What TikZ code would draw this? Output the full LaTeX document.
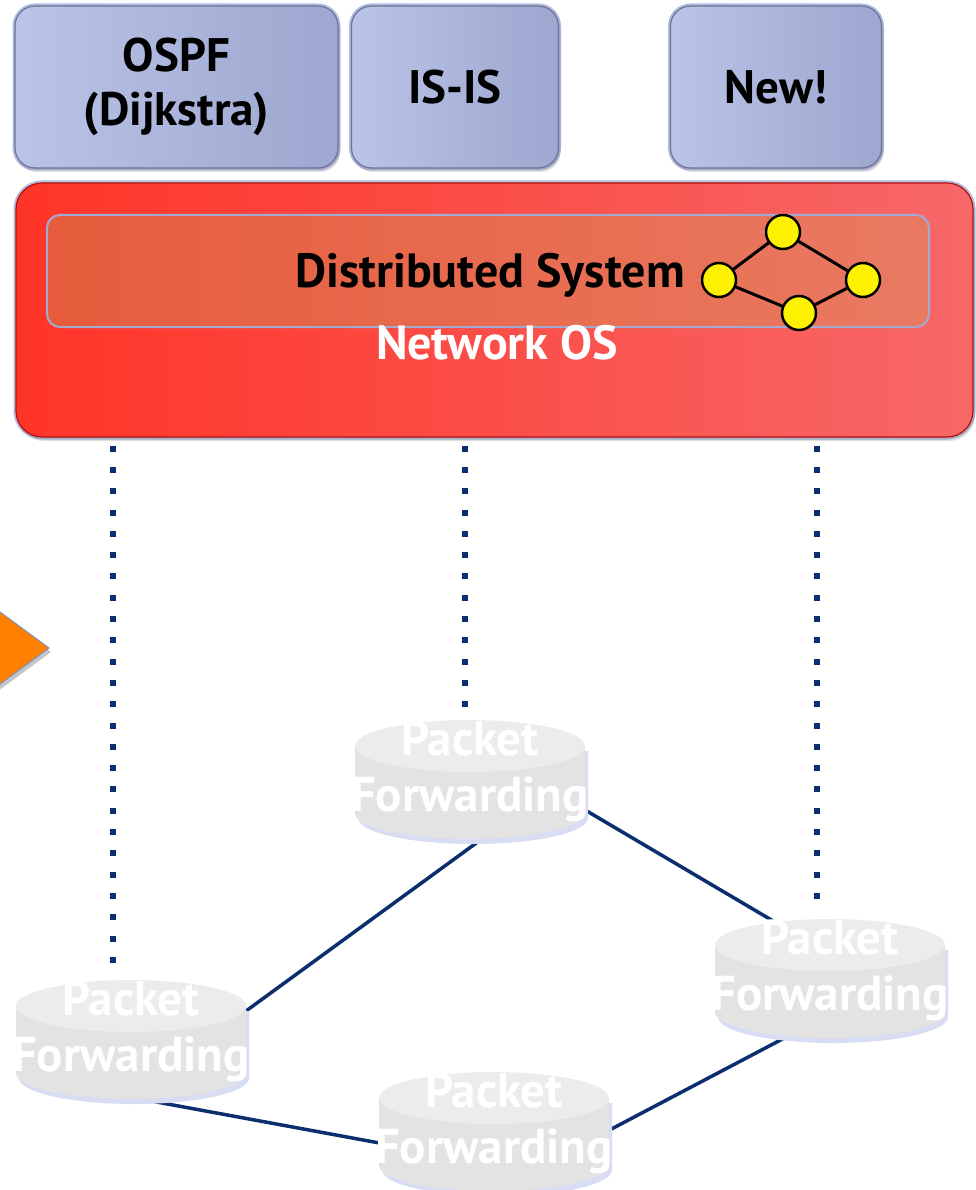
\documentclass[tikz,border=0pt]{standalone}
\usepackage{fontspec}
\setmainfont{PT Sans}
\usetikzlibrary{shadows,calc}
\definecolor{boxA}{HTML}{BAC4E8}
\definecolor{boxB}{HTML}{9DA7CF}
\definecolor{boxline}{HTML}{6C7394}
\definecolor{boxglow}{HTML}{B0BBE0}
\definecolor{redA}{HTML}{FF3428}
\definecolor{redB}{HTML}{F76868}
\definecolor{redline}{HTML}{B3120E}
\definecolor{innerA}{HTML}{E65C3C}
\definecolor{innerB}{HTML}{E97A62}
\definecolor{innerline}{HTML}{A3AAD2}
\definecolor{navy}{HTML}{0A2E6E}
\definecolor{cyltopc}{HTML}{ECECEC}
\definecolor{cylbodyc}{HTML}{E3E3E3}
\definecolor{cylglow}{HTML}{D8DDF3}
\definecolor{orangec}{HTML}{FF7F00}
\definecolor{triline}{HTML}{7F8FC0}
\pgfdeclarelayer{bg}
\pgfdeclarelayer{cyl}
\pgfsetlayers{bg,cyl,main}
\newcommand\mycyl[1]{%
  \begin{pgfonlayer}{cyl}
    \path ([yshift=-8.5pt]#1.center) coordinate (#1-c);
    \fill[cylglow] ([shift={(-112pt,28.5pt)}]#1-c) -- ([shift={(-112pt,-38.5pt)}]#1-c)
      arc[start angle=180,end angle=360,x radius=115pt,y radius=26pt]
      -- ([shift={(118pt,28.5pt)}]#1-c) -- cycle;
    \fill[cylbodyc] ([shift={(-115pt,33.5pt)}]#1-c) -- ([shift={(-115pt,-33.5pt)}]#1-c)
      arc[start angle=180,end angle=360,x radius=115pt,y radius=26pt]
      -- ([shift={(115pt,33.5pt)}]#1-c) -- cycle;
    \fill[cyltopc] ([yshift=33.5pt]#1-c) ellipse[x radius=115pt,y radius=26pt];
  \end{pgfonlayer}}
\begin{document}
\begin{tikzpicture}[x=1pt,y=1pt,
  protobox/.style={rounded corners=20pt, minimum height=162pt, inner sep=0pt,
    left color=boxA, right color=boxB, draw=boxline, line width=1.2pt,
    preaction={draw=boxglow, line width=5pt},
    drop shadow={opacity=0.25, shadow xshift=2pt, shadow yshift=-4pt},
    font=\fontsize{47}{54}\selectfont\bfseries, align=center, text=black},
  osbox/.style={rounded corners=26pt, minimum width=957pt, minimum height=254pt, inner sep=0pt,
    left color=redA, right color=redB, draw=redline, line width=1.2pt,
    preaction={draw=boxglow, line width=5pt},
    drop shadow={opacity=0.25, shadow xshift=2pt, shadow yshift=-4pt}},
  dsbox/.style={rounded corners=13pt, minimum width=882pt, minimum height=112pt, inner sep=0pt,
    left color=innerA, right color=innerB, draw=innerline, line width=2pt},
  bigtext/.style={font=\fontsize{48}{56}\selectfont\bfseries, inner sep=0pt},
  ynode/.style={circle, fill=yellow, draw=black, line width=2.5pt, minimum size=34pt, inner sep=0pt},
  gedge/.style={black, line width=3pt},
  cyltext/.style={font=\fontsize{49}{56}\selectfont\bfseries, text=white, align=center, inner sep=0pt},
  dotline/.style={navy, line width=6pt, dash pattern=on 6pt off 15.3pt},
  netline/.style={navy, line width=3.5pt}
]
\begin{pgfonlayer}{bg}
\fill[white] (0,0) rectangle (975,-1190);
\end{pgfonlayer}
\useasboundingbox (0,0) rectangle (975,-1190);

% protocol boxes
\node[protobox, minimum width=323pt] (ospf) at (176.5,-87) {OSPF\\(Dijkstra)};
\node[protobox, minimum width=207pt] (isis) at (455,-87) {IS-IS};
\node[protobox, minimum width=211pt] (new) at (776,-87) {New!};

% network OS
\node[osbox] (os) at (494.5,-310) {};
\node[dsbox] (ds) at (488,-271) {};
\node[bigtext, text=black] (dstext) at (490,-275) {Distributed System};
\node[bigtext, text=white] (ostext) at (497,-343) {Network OS};

% small graph
\node[ynode] (g1) at (783,-232) {};
\node[ynode] (g2) at (719,-280) {};
\node[ynode] (g3) at (863,-280) {};
\node[ynode] (g4) at (799,-313) {};
\draw[gedge] (g2) -- (g1) -- (g3) -- (g4) -- (g2);

% orange triangle
\filldraw[fill=orangec, draw=triline, line width=1pt,
  drop shadow={opacity=0.45, shadow xshift=2pt, shadow yshift=-4pt}]
  (-5,-608.3) -- (49,-648) -- (-5,-687.7) -- cycle;

% packet forwarding cylinders
\node[cyltext] (pm) at (470,-771) {Packet\\Forwarding};
\node[cyltext] (pr) at (830,-970) {Packet\\Forwarding};
\node[cyltext] (pl) at (131,-1031) {Packet\\Forwarding};
\node[cyltext] (pb) at (494,-1123) {Packet\\Forwarding};
\mycyl{pm}\mycyl{pr}\mycyl{pl}\mycyl{pb}

% network links
\begin{pgfonlayer}{bg}
\draw[netline] ([shift={(20pt,-62pt)}]pm.center) -- ([shift={(104pt,12pt)}]pl.center);
\draw[netline] ([shift={(110pt,-36pt)}]pm.center) -- ([shift={(-45pt,42pt)}]pr.center);
\draw[netline] ([shift={(-38pt,-64pt)}]pr.center) -- ([shift={(106pt,-12pt)}]pb.center);
\draw[netline] ([shift={(4pt,-67pt)}]pl.center) -- ([shift={(-109pt,-21pt)}]pb.center);
% control channels
\draw[dotline] ([xshift=-18pt]pl.center |- os.south) ++(0,-8pt) -- ([shift={(-18pt,56pt)}]pl.center);
\draw[dotline] ([xshift=-5pt]pm.center |- os.south) ++(0,-8pt) -- ([shift={(-5pt,62pt)}]pm.center);
\draw[dotline] ([xshift=-13pt]pr.center |- os.south) ++(0,-8pt) -- ([shift={(-13pt,57pt)}]pr.center);
\end{pgfonlayer}
\end{tikzpicture}
\end{document}
